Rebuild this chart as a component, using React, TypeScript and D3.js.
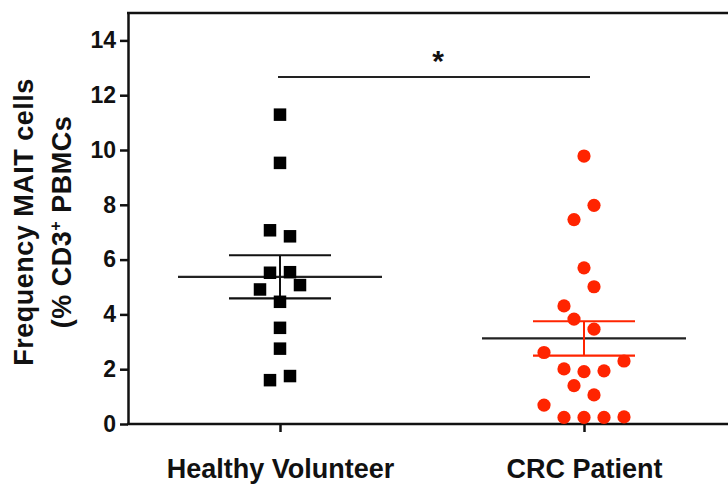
import React, { useEffect, useRef } from "react";
import * as d3 from "d3";

const groups = ["Healthy Volunteer", "CRC Patient"];

// values (% CD3+ PBMCs), with their horizontal lane in the scatter
const healthyValues = [11.29, 9.53, 7.07, 6.85, 5.52, 5.54, 4.91, 5.07, 4.46, 3.51, 2.75, 1.6, 1.75];
const healthyLanes = [0, 0, -1, 1, -1, 1, -2, 2, 0, 0, 0, -1, 1];

const crcValues = [9.78, 7.98, 7.46, 5.7, 5.01, 4.31, 3.83, 3.46, 2.61, 2.3, 2.01, 1.91, 1.94, 1.4, 1.06, 0.69, 0.24, 0.24, 0.24, 0.26];
const crcLanes = [0, 1, -1, 0, 1, -2, -1, 1, -4, 4, -2, 0, 2, -1, 1, -4, -2, 0, 2, 4];

const yTicks = [0, 2, 4, 6, 8, 10, 12, 14];

const W = 728;
const H = 484;
const FONT = "'Liberation Sans', Arial, Helvetica, sans-serif";
const RED = "#ff2400";

const App = () => {
  const svgRef = useRef<SVGSVGElement>(null);

  useEffect(() => {
    document.body.style.margin = "0";
    const svg = d3.select(svgRef.current);
    svg.selectAll("*").remove();

    const x = d3.scalePoint().domain(groups).range([128, 736]).padding(0.5);
    const y = d3.scaleLinear().domain([0, 15]).range([424, 13]);
    const lane = d3.scaleLinear().domain([0, 1]).range([0, 10]);

    // y axis
    const yAxis = svg
      .append("g")
      .attr("transform", "translate(128,0)")
      .call(d3.axisLeft(y).tickValues(yTicks).tickSize(8).tickSizeOuter(0).tickPadding(4));
    yAxis.select(".domain").attr("stroke", "#111").attr("stroke-width", 2.5);
    yAxis.selectAll(".tick line").attr("stroke", "#111").attr("stroke-width", 2.5);
    yAxis
      .selectAll(".tick text")
      .attr("fill", "#111")
      .style("font-family", FONT)
      .style("font-weight", "bold")
      .style("font-size", "23px");

    // x axis
    const xAxis = svg
      .append("g")
      .attr("transform", "translate(0,424)")
      .call(d3.axisBottom(x).tickSize(8).tickSizeOuter(0).tickPadding(27));
    xAxis.select(".domain").remove();
    xAxis.selectAll(".tick line").attr("stroke", "#111").attr("stroke-width", 2.5);
    xAxis
      .selectAll(".tick text")
      .attr("fill", "#111")
      .style("font-family", FONT)
      .style("font-weight", "bold")
      .style("font-size", "27px");

    // frame: bottom and top lines
    svg.append("line").attr("x1", 127).attr("x2", W).attr("y1", y(0)).attr("y2", y(0))
      .attr("stroke", "#111").attr("stroke-width", 2.5);
    svg.append("line").attr("x1", 127).attr("x2", W).attr("y1", y(15)).attr("y2", y(15))
      .attr("stroke", "#111").attr("stroke-width", 2.5);

    // y title
    const title = svg
      .append("text")
      .attr("transform", `translate(0,222) rotate(-90)`)
      .attr("text-anchor", "middle")
      .attr("fill", "#111")
      .style("font-family", FONT)
      .style("font-weight", "bold")
      .style("font-size", "27px")
      .style("letter-spacing", "0.5px");
    title.append("tspan").attr("x", 0).attr("y", 33).text("Frequency MAIT cells");
    const t2 = title.append("tspan").attr("x", 0).attr("y", 71);
    t2.append("tspan").text("(% CD3");
    t2.append("tspan").attr("dy", -10).style("font-size", "16px").text("+");
    t2.append("tspan").attr("dy", 10).text(" PBMCs");

    // significance bar
    svg.append("line").attr("x1", 278).attr("x2", 590).attr("y1", 77).attr("y2", 77)
      .attr("stroke", "#222").attr("stroke-width", 2.2);
    svg.append("text").attr("x", 438).attr("y", 71).attr("text-anchor", "middle")
      .attr("fill", "#111").style("font-family", FONT).style("font-weight", "bold")
      .style("font-size", "30px").text("*");

    const series = [
      { name: groups[0], values: healthyValues, lanes: healthyLanes, color: "#000", shape: "square", err: "#111" },
      { name: groups[1], values: crcValues, lanes: crcLanes, color: RED, shape: "circle", err: RED },
    ];

    series.forEach((s) => {
      const cx = x(s.name) as number;
      const mean = d3.mean(s.values) as number;
      const sem = (d3.deviation(s.values) as number) / Math.sqrt(s.values.length);

      const g = svg.append("g");
      // mean line
      g.append("line").attr("x1", cx - 102).attr("x2", cx + 102).attr("y1", y(mean)).attr("y2", y(mean))
        .attr("stroke", "#222").attr("stroke-width", 2.2);
      // SEM whisker
      g.append("line").attr("x1", cx).attr("x2", cx).attr("y1", y(mean + sem)).attr("y2", y(mean - sem))
        .attr("stroke", s.err).attr("stroke-width", 2);
      [mean + sem, mean - sem].forEach((v) => {
        g.append("line").attr("x1", cx - 51).attr("x2", cx + 51).attr("y1", y(v)).attr("y2", y(v))
          .attr("stroke", s.err).attr("stroke-width", 2.2);
      });

      const pts = s.values.map((v, i) => ({ v, px: cx + lane(s.lanes[i]) }));
      if (s.shape === "square") {
        g.selectAll("rect.pt")
          .data(pts)
          .enter()
          .append("rect")
          .attr("class", "pt")
          .attr("x", (d) => d.px - 6.25)
          .attr("y", (d) => y(d.v) - 6.25)
          .attr("width", 12.5)
          .attr("height", 12.5)
          .attr("fill", s.color);
      } else {
        g.selectAll("circle.pt")
          .data(pts)
          .enter()
          .append("circle")
          .attr("class", "pt")
          .attr("cx", (d) => d.px)
          .attr("cy", (d) => y(d.v))
          .attr("r", 6.6)
          .attr("fill", s.color);
      }
    });
  }, []);

  return (
    <div style={{ width: W, height: H, background: "#fff" }}>
      <svg ref={svgRef} width={W} height={H} style={{ display: "block" }}></svg>
    </div>
  );
};

export default App;
